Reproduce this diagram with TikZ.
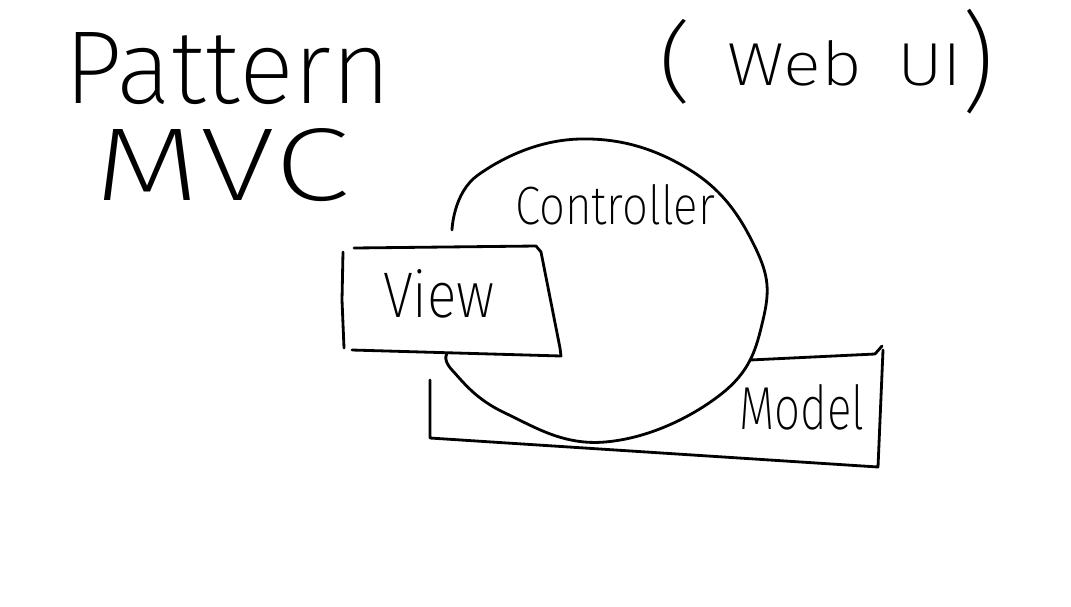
\documentclass[tikz,border=0pt]{standalone}
\usepackage{fontspec}
\setmainfont{Fira Sans ExtraLight}
\usepackage{graphicx}

\begin{document}
\begin{tikzpicture}[
  x=0.02cm, y=-0.02cm,
  pen/.style={line width=1.6pt, line cap=round, line join=round},
  hand/.style={inner sep=0pt, outer sep=0pt},
]
\useasboundingbox[fill=white] (0,0) rectangle (1071,606);

% Title
\node[hand] (pattern) at (228,69) {\resizebox{6.54cm}{1.42cm}{Pattern}};
\node[hand] (mvc) at (222,165) {\resizebox{5.1cm}{1.44cm}{MVC}};
\node[hand] (lparen) at (675,62) {\resizebox*{0.68cm}{1.7cm}{(}};
\node[hand] (webui) at (845,63) {\resizebox{4.7cm}{0.9cm}{Web\hspace{0.5em}UI}};
\node[hand] (rparen) at (978,62) {\resizebox*{0.66cm}{2.1cm}{)}};

% Model (behind the circle)
\draw[pen] (750,360) -- (875,354) -- (882,346);
\draw[pen] (883,350) -- (878,467) -- (430,438) -- (430,380);

% Controller
\draw[pen] plot[smooth, tension=0.7] coordinates {
  (452,230) (478,175) (580,139) (690,170) (755,247) (763,320)
  (720,395) (605,442) (505,413) (452,370) (448,352)};

% View (in front of the circle)
\fill[white] (343,248) -- (540,246) -- (563,357) -- (343,350) -- cycle;
\draw[pen] (354,248) -- (536,246) -- (541,252) -- (560,348) -- (561,356) -- (352,350);
\draw[pen] (343,252) -- (342,300) -- (344,348);

% Labels
\node[hand] (controller) at (615,205) {\resizebox{4cm}{0.8cm}{Controller}};
\node[hand] (view) at (439,294) {\resizebox{2.24cm}{0.96cm}{View}};
\node[hand] (model) at (802,407) {\resizebox{2.5cm}{0.9cm}{Model}};
\end{tikzpicture}
\end{document}
